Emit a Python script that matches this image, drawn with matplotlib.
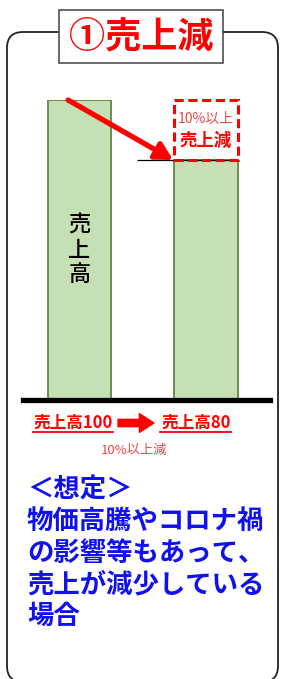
import matplotlib
matplotlib.use('Agg')

import matplotlib.pyplot as plt
from matplotlib.patches import FancyBboxPatch, Rectangle

plt.rcParams['font.family'] = ['Noto Sans CJK JP', 'DejaVu Sans']

# data
categories = ['前', '後']
values = [100, 80]
bar_label = '売上高'
title = '①売上減'
box_top_text = '10%以上'
box_main_text = '売上減'
before_label = '売上高100'
after_label = '売上高80'
note_label = '10%以上減'
scenario_lines = ['＜想定＞', '物価高騰やコロナ禍', 'の影響等もあって、', '売上が減少している', '場合']

RED = '#FF0000'
PINK = '#F04848'
BLUE = '#1010F0'
W, H = 283, 679

fig = plt.figure(figsize=(W / 100, H / 100), dpi=100)

# full-figure overlay in pixel coordinates
bg = fig.add_axes([0, 0, 1, 1])
bg.set_xlim(0, W)
bg.set_ylim(H, 0)
bg.axis('off')

frame = FancyBboxPatch((7, 32), 271, 650, boxstyle='round,pad=0,rounding_size=16',
                       fc='white', ec='#222222', lw=1.3, zorder=1)
bg.add_patch(frame)
bg.add_patch(Rectangle((59, 10), 164, 53, fc='white', ec='#404040', lw=1.1, zorder=3))
bg.text(141, 37, title, color=RED, fontsize=26, fontweight='bold',
        ha='center', va='center', zorder=4)

# bar chart axes: baseline at y=400px, value 100 at y=100px
ax = fig.add_axes([23 / W, 1 - 400 / H, 247 / W, 300 / H])
ax.patch.set_alpha(0)
x = list(range(len(categories)))
bar_w = 0.5
ax.bar(x, values, width=bar_w, color='#C5E0B4', edgecolor='#6B8C50', linewidth=1.4, zorder=2)
ax.set_xlim(-0.4466, 1.506)
ax.set_ylim(0, values[0])
for side in ['left', 'right', 'top']:
    ax.spines[side].set_visible(False)
ax.spines['bottom'].set_linewidth(3.8)
ax.spines['bottom'].set_zorder(5)
ax.set_xticks([])
ax.set_yticks([])

# level line and dashed loss box
ax.hlines(values[1], 0.455, x[1] + bar_w / 2, color='black', lw=0.9, zorder=3, clip_on=False)
ax.add_patch(Rectangle((x[1] - bar_w / 2, values[1]), bar_w, values[0] - values[1],
                       fill=False, ec=RED, lw=2.2, ls=(0, (3, 1.5)), zorder=4, clip_on=False))
ax.text(x[1], 93.7, box_top_text, color=PINK, fontsize=10, ha='center', va='center')
ax.text(x[1], 86.3, box_main_text, color=RED, fontsize=12.5, fontweight='bold',
        ha='center', va='center')
ax.annotate('', xy=(x[1] - bar_w / 2 - 0.01, values[1]), xytext=(-0.09, values[0]),
            arrowprops=dict(arrowstyle='-|>,head_length=1.0,head_width=0.55',
                            color=RED, lw=3.8, shrinkA=0, shrinkB=0),
            annotation_clip=False, zorder=6)
ax.text(x[0], 50, '\n'.join(bar_label), color='black', fontsize=16, fontweight='medium',
        ha='center', va='center', linespacing=1.1)

# labels below the baseline
bg.text(73, 423, before_label, color=RED, fontsize=12, fontweight='bold', ha='center', va='center')
bg.text(196, 423, after_label, color=RED, fontsize=12, fontweight='bold', ha='center', va='center')
bg.plot([33, 113], [431.5, 431.5], color=RED, lw=1.3)
bg.plot([160, 231], [431.5, 431.5], color=RED, lw=1.3)
bg.annotate('', xy=(154, 423), xytext=(118, 423),
            arrowprops=dict(arrowstyle='simple,head_length=0.7,head_width=0.9,tail_width=0.35',
                            color=RED, mutation_scale=15, shrinkA=0, shrinkB=0))
bg.text(134, 450, note_label, color=PINK, fontsize=9.5, ha='center', va='center')

# scenario text
for i, line in enumerate(scenario_lines):
    bg.text(27, 490 + i * 31.7, line, color=BLUE, fontsize=19, fontweight='bold',
            ha='left', va='center')

plt.savefig('out.png', dpi=100)
